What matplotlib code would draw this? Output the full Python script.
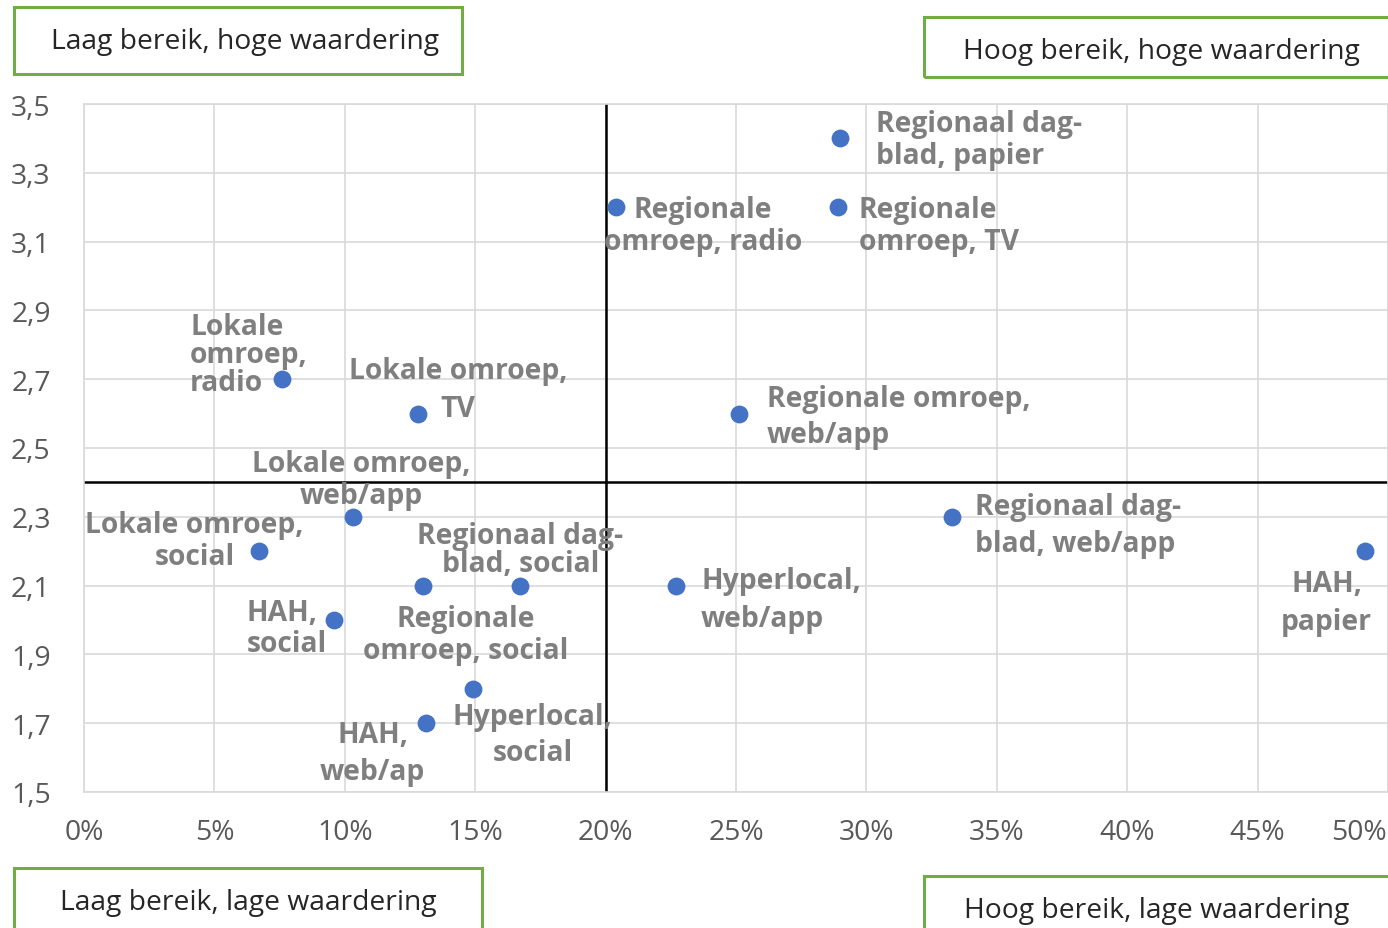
import matplotlib
matplotlib.use("Agg")
import matplotlib.pyplot as plt
from matplotlib.patches import Rectangle
from matplotlib.ticker import FuncFormatter, MultipleLocator, FixedLocator

plt.rcParams['font.family'] = ['Open Sans', 'DejaVu Sans']

# ---- data ----
labels = [
    "Regionaal dag-\nblad, papier",
    "Regionale\nomroep, radio",
    "Regionale\nomroep, TV",
    "Lokale\nomroep,\nradio",
    "Lokale omroep,\nTV",
    "Regionale omroep,\nweb/app",
    "Lokale omroep,\nweb/app",
    "Lokale omroep,\nsocial",
    "Regionaal dag-\nblad, social",
    "Regionale\nomroep, social",
    "HAH,\nsocial",
    "Hyperlocal,\nsocial",
    "HAH,\nweb/ap",
    "Hyperlocal,\nweb/app",
    "Regionaal dag-\nblad, web/app",
    "HAH,\npapier",
]
bereik = [0.290, 0.204, 0.289, 0.076, 0.128, 0.251, 0.103, 0.067,
          0.167, 0.130, 0.096, 0.149, 0.131, 0.227, 0.333, 0.491]
waardering = [3.4, 3.2, 3.2, 2.7, 2.6, 2.6, 2.3, 2.2,
              2.1, 2.1, 2.0, 1.8, 1.7, 2.1, 2.3, 2.2]
y_ticks = [1.5, 1.7, 1.9, 2.1, 2.3, 2.5, 2.7, 2.9, 3.1, 3.3, 3.5]
x_max = 0.5
x_split = 0.20
y_split = 2.4
quadrants = ["Laag bereik, hoge waardering", "Hoog bereik, hoge waardering",
             "Laag bereik, lage waardering", "Hoog bereik, lage waardering"]

# label placement: (dx px, dy px, ha, linespacing)
label_style = [
    (36, -1, 'left', 1.12),
    (87, -18, 'center', 1.12),
    (21, -18, 'left', 1.12),
    (-92, 25, 'left', 0.95),
    (40, 24, 'center', 1.38),
    (28, -3, 'left', 1.34),
    (9, 37, 'center', 1.12),
    (-64, 11, 'center', 1.12),
    (1, 36, 'center', 0.97),
    (43, -49, 'center', 1.12),
    (-88, -8, 'left', 1.12),
    (60, -46, 'center', 1.3),
    (-53, -30, 'center', 1.38),
    (25, -14, 'left', 1.38),
    (23, -8, 'left', 1.38),
    (-38, -51, 'center', 1.42),
]

FS = 20.3
TICK_C = '#595959'
W, H = 1388, 929
fig = plt.figure(figsize=(W / 100, H / 100), dpi=100)
ax = fig.add_axes([84 / W, (H - 793) / H, (W - 84) / W, (793 - 105) / H])

ax.set_xlim(0, x_max)
ax.set_ylim(1.5, 3.5)
ax.xaxis.set_major_locator(MultipleLocator(0.05))
ax.yaxis.set_major_locator(FixedLocator(y_ticks))
ax.xaxis.set_major_formatter(
    FuncFormatter(lambda v, p: "" if abs(v - x_max) < 1e-9 else f"{v * 100:.0f}%"))
ax.yaxis.set_major_formatter(FuncFormatter(lambda v, p: f"{v:.1f}".replace('.', ',')))
ax.grid(True, color='#d9d9d9', linewidth=1.2)
ax.set_axisbelow(True)
for s in ax.spines.values():
    s.set_color('#d9d9d9')
    s.set_linewidth(1.2)
ax.tick_params(length=0, labelsize=FS, colors=TICK_C)
ax.tick_params(axis='y', pad=24)
ax.tick_params(axis='x', pad=19)

# last x tick label, right-aligned so it stays inside the figure
ax.annotate(f"{x_max * 100:.0f}%", (x_max, 0), xycoords=('data', 'axes fraction'),
            xytext=(-1, -19), textcoords='offset points', ha='right', va='top',
            fontsize=FS, color=TICK_C)

ax.axvline(x_split, color='black', linewidth=1.8, zorder=2)
ax.axhline(y_split, color='black', linewidth=1.8, zorder=2)

ax.scatter(bereik, waardering, s=165, color='#4472c4', zorder=4, linewidths=0)

for lab, x, y, (dx, dy, ha, ls) in zip(labels, bereik, waardering, label_style):
    ax.annotate(lab, (x, y), xytext=(dx * 0.72, dy * 0.72), textcoords='offset points',
                ha=ha, va='center', multialignment=ha, linespacing=ls,
                fontsize=FS, fontweight='bold', color='#7f7f7f', zorder=5)

# quadrant boxes (pixel boxes: x0, y0, x1, y1)
boxes = [(14, 8, 462, 75), (924, 18, 1392, 78), (14, 869, 482, 934), (924, 877, 1392, 934)]
text_pos = [(245, 42), (1161, 52), (248, 903), (1157, 911)]
for q, (x0, y0, x1, y1), (tx, ty) in zip(quadrants, boxes, text_pos):
    fig.patches.append(Rectangle((x0 / W, 1 - y1 / H), (x1 - x0) / W, (y1 - y0) / H,
                                 transform=fig.transFigure, fill=False,
                                 edgecolor='#70ad47', linewidth=2.2))
    fig.text(tx / W, 1 - ty / H, q, ha='center', va='center', fontsize=FS, color='#262626')

fig.savefig('out.png', dpi=100)
